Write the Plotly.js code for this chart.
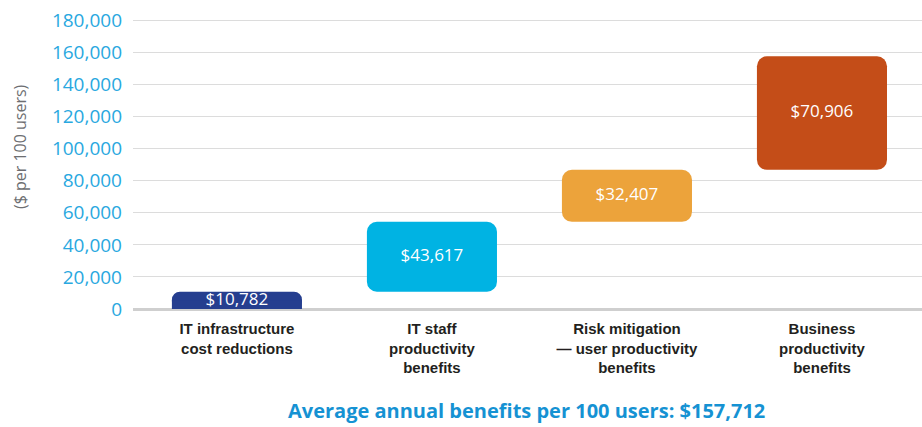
<!DOCTYPE html>
<html>
<head>
<meta charset="utf-8">
<script src="https://cdn.plot.ly/plotly-3.0.1.min.js"></script>
<style>html,body{margin:0;padding:0;background:#fff;}#chart{width:922px;height:427px;}</style>
</head>
<body>
<div id="chart"></div>
<script>
const categories = ["IT infrastructure cost reductions", "IT staff productivity benefits", "Risk mitigation — user productivity benefits", "Business productivity benefits"];
const tickLabels = ["IT infrastructure<br>cost reductions", "IT staff<br>productivity<br>benefits", "Risk mitigation<br>— user productivity<br>benefits", "Business<br>productivity<br>benefits"];
const values = [10782, 43617, 32407, 70906];
const valueLabels = ["$10,782", "$43,617", "$32,407", "$70,906"];
const colors = ["#253e8f", "#00b3e3", "#eca33b", "#c44d18"];
const totalLabel = "Average annual benefits per 100 users: $157,712";
const yAxisLabel = "($ per 100 users)";

// cumulative bases (waterfall)
const bases = [];
let acc = 0;
values.forEach(v => { bases.push(acc); acc += v; });
const mids = values.map((v, i) => bases[i] + v / 2);

const bars = {
  type: 'bar', x: categories, base: bases, y: values,
  marker: {color: colors, cornerradius: 10, line: {width: 0}},
  width: 0.667, hoverinfo: 'skip', showlegend: false
};
// square-off the bottom of bars that stand on the zero line
const groundIdx = values.map((v, i) => i).filter(i => bases[i] === 0);
const ground = {
  type: 'bar', x: groundIdx.map(i => categories[i]), base: groundIdx.map(i => 0),
  y: groundIdx.map(i => values[i] / 2),
  marker: {color: groundIdx.map(i => colors[i]), line: {width: 0}},
  width: 0.667, hoverinfo: 'skip', showlegend: false
};
const labels = {
  type: 'scatter', mode: 'text', x: categories, y: mids, text: valueLabels,
  textposition: 'middle center',
  textfont: {family: 'Open Sans', size: 17, color: '#ffffff'},
  hoverinfo: 'skip', showlegend: false
};

const layout = {
  width: 922, height: 427,
  margin: {l: 133, r: 0, t: 18, b: 116},
  paper_bgcolor: '#ffffff', plot_bgcolor: '#ffffff',
  barmode: 'overlay',
  showlegend: false,
  xaxis: {
    type: 'category', range: [-0.533, 3.513],
    tickmode: 'array', tickvals: categories, ticktext: tickLabels,
    tickfont: {family: 'Liberation Sans', size: 15, color: '#231f20', weight: 'bold'},
    showgrid: false, zeroline: false, showline: false, ticks: '',
    ticklabelstandoff: 7, fixedrange: true
  },
  yaxis: {
    range: [-1250, 181560], dtick: 20000, tick0: 0, tickformat: ',',
    tickfont: {family: 'Open Sans', size: 19, color: '#29a8e0'},
    showgrid: true, gridcolor: '#dcdcdc', gridwidth: 1,
    zeroline: true, zerolinecolor: '#cfcfcf', zerolinewidth: 3,
    showline: false, ticks: '', ticklabelstandoff: 10, fixedrange: true
  },
  annotations: [
    {text: yAxisLabel, xref: 'paper', yref: 'paper', x: -0.143, y: 0.56,
     xanchor: 'center', yanchor: 'middle', textangle: -90, showarrow: false,
     font: {family: 'Open Sans', size: 16, color: '#6d6e71'}},
    {text: totalLabel, xref: 'paper', yref: 'paper', x: 0.499, y: -0.34,
     xanchor: 'center', yanchor: 'middle', showarrow: false,
     font: {family: 'Open Sans', size: 20, color: '#1592d3', weight: 'bold'}}
  ]
};

Plotly.newPlot('chart', [bars, ground, labels], layout, {displayModeBar: false, staticPlot: true});
</script>
</body>
</html>
